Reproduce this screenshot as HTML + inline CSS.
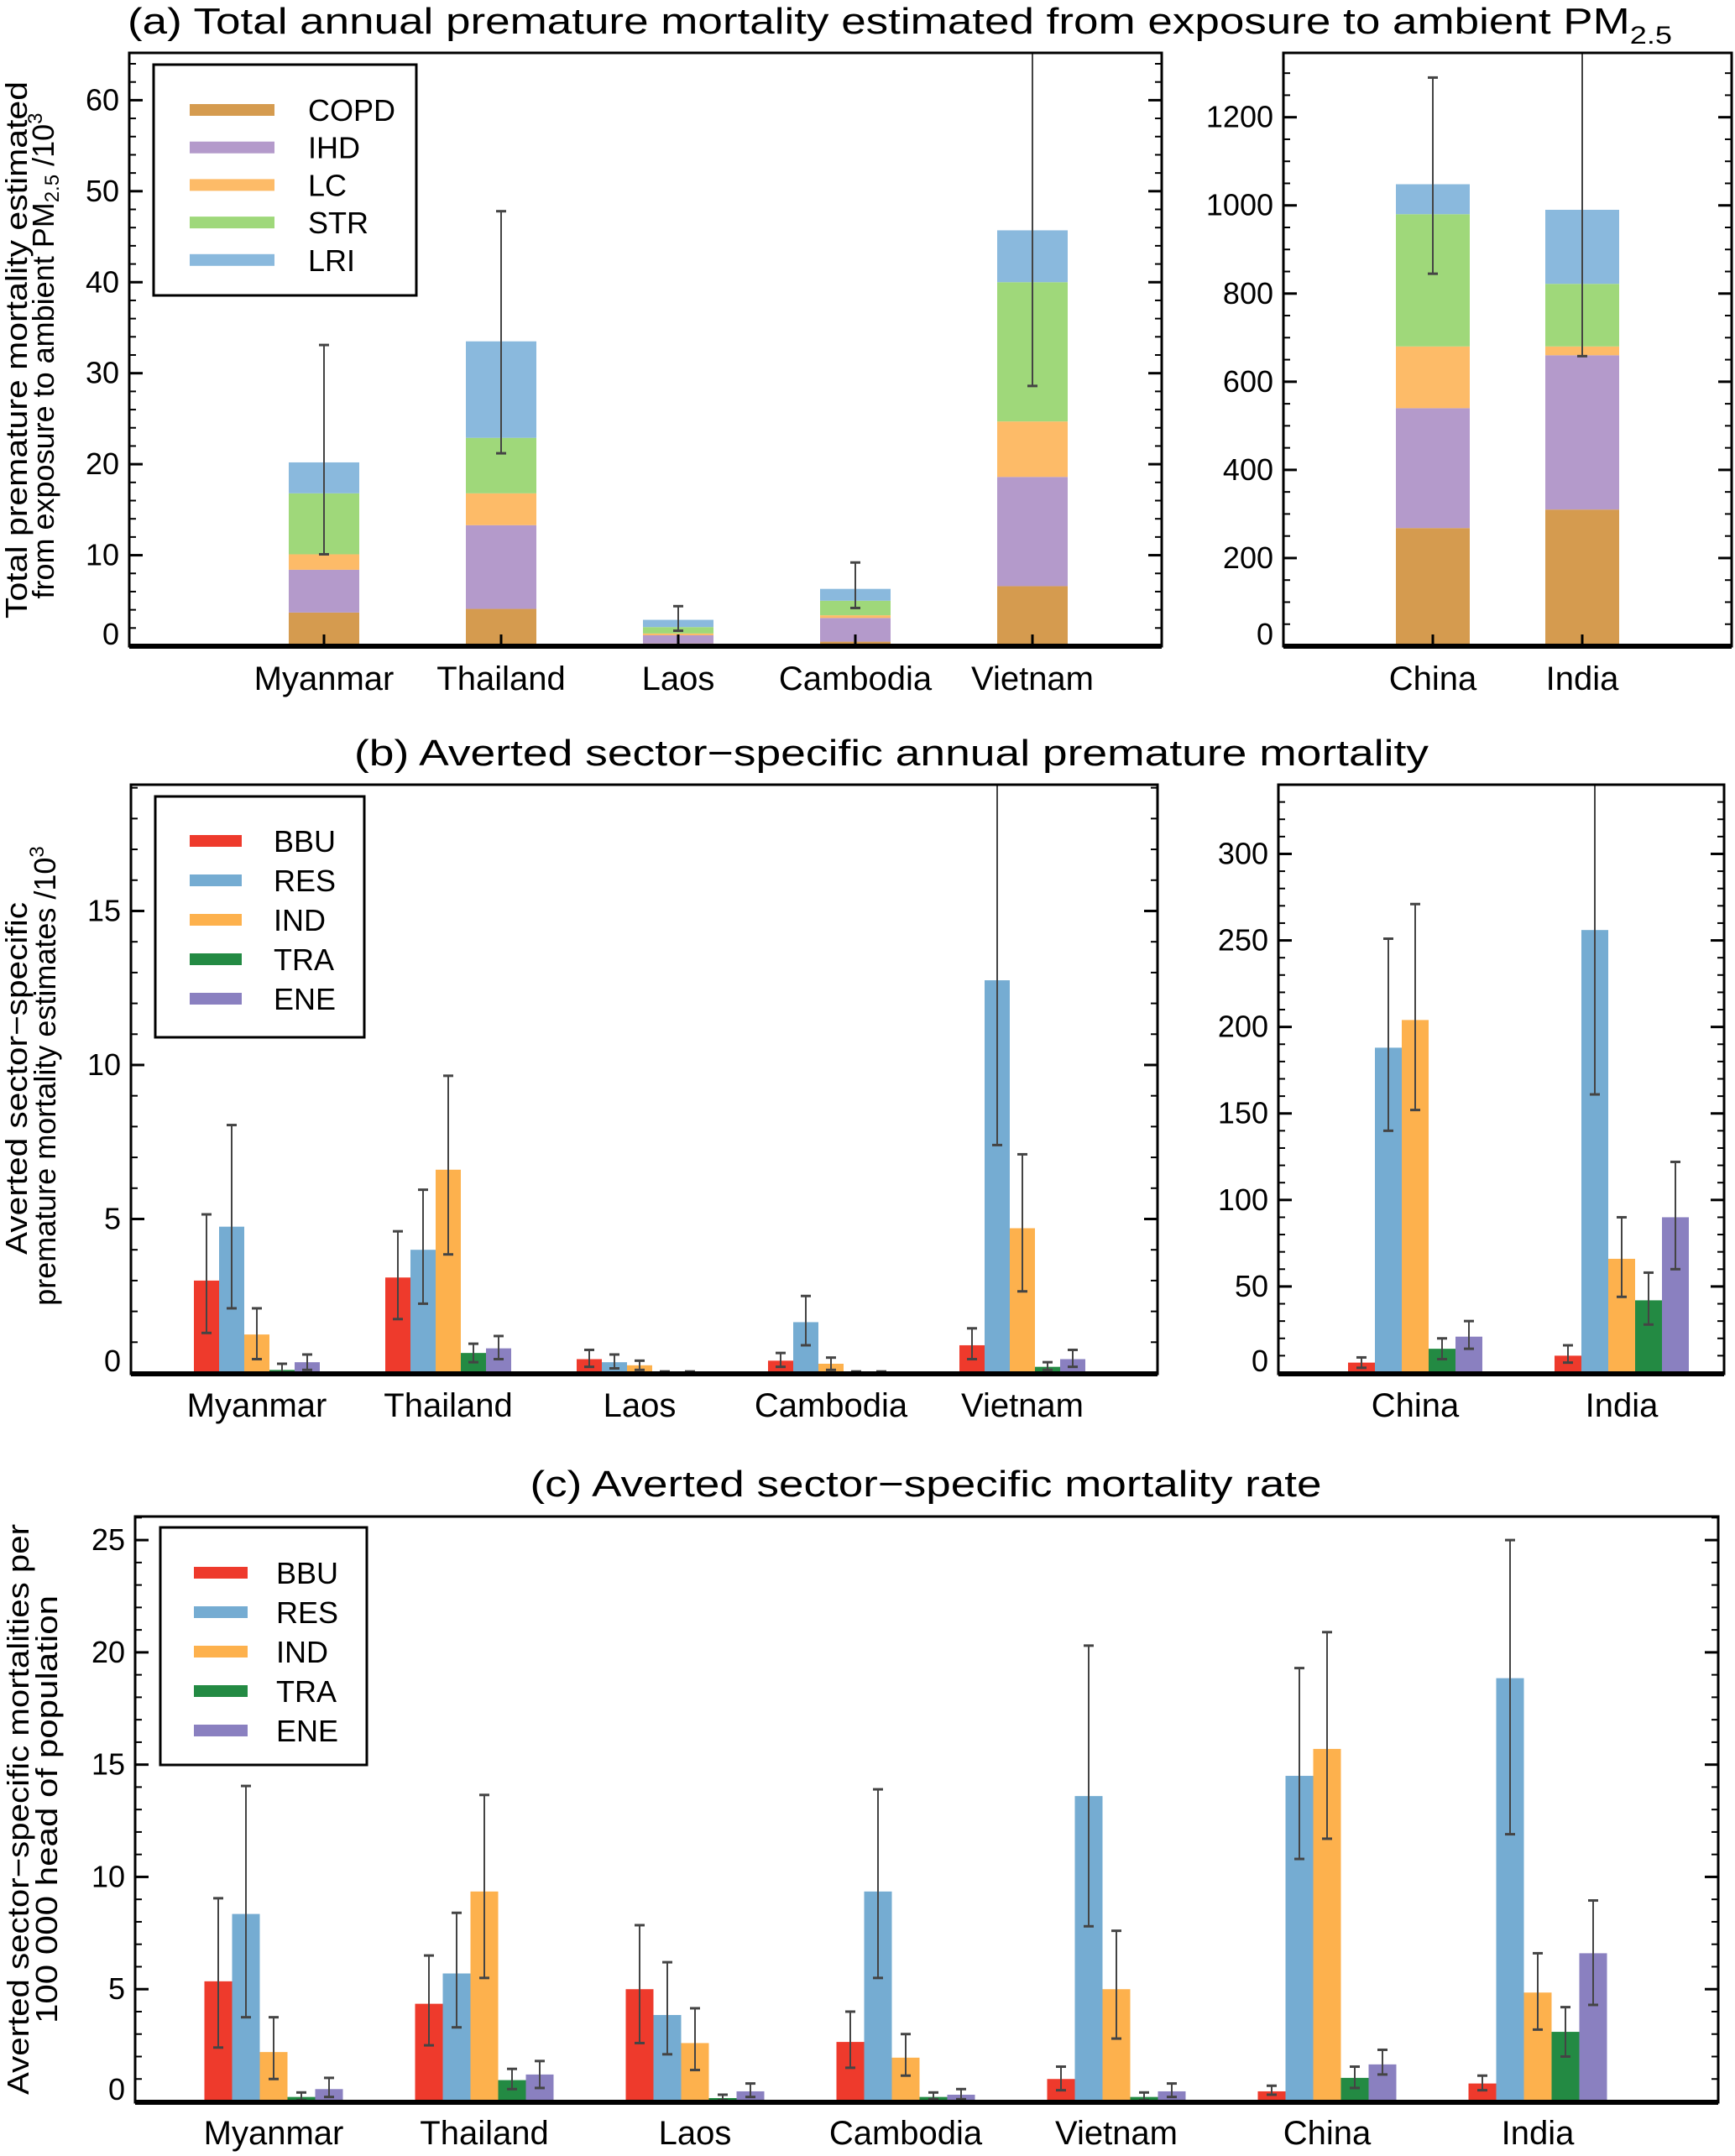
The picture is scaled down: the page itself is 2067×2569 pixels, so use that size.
<!DOCTYPE html>
<html><head><meta charset="utf-8"><style>
html,body{margin:0;padding:0;background:#fff;}
svg{display:block;font-family:"Liberation Sans",sans-serif;}
</style></head><body>
<svg id="fig" width="2067" height="2569" viewBox="0 0 2067 2569" xmlns="http://www.w3.org/2000/svg">
<text x="152" y="40" font-size="44" textLength="1840" lengthAdjust="spacingAndGlyphs">(a) Total annual premature mortality estimated from exposure to ambient PM<tspan font-size="30" dy="12">2.5</tspan></text>
<text x="1062" y="912" font-size="44" text-anchor="middle" textLength="1280" lengthAdjust="spacingAndGlyphs">(b) Averted sector−specific annual premature mortality</text>
<text x="1103" y="1783" font-size="44" text-anchor="middle" textLength="943" lengthAdjust="spacingAndGlyphs">(c) Averted sector−specific mortality rate</text>
<g font-size="36">
<text transform="translate(32,417) rotate(-90)" text-anchor="middle" textLength="640" lengthAdjust="spacingAndGlyphs">Total premature mortality estimated</text>
<text transform="translate(64,424) rotate(-90)" text-anchor="middle">from exposure to ambient PM<tspan font-size="24" dy="6">2.5</tspan><tspan dy="-6"> /10</tspan><tspan font-size="24" dy="-14">3</tspan></text>
</g>
<g font-size="36">
<text transform="translate(32,1285) rotate(-90)" text-anchor="middle" textLength="420" lengthAdjust="spacingAndGlyphs">Averted sector−specific</text>
<text transform="translate(66,1282) rotate(-90)" text-anchor="middle">premature mortality estimates /10<tspan font-size="24" dy="-14">3</tspan></text>
</g>
<g font-size="36">
<text transform="translate(34,2156) rotate(-90)" text-anchor="middle" textLength="680" lengthAdjust="spacingAndGlyphs">Averted sector−specific mortalities per</text>
<text transform="translate(68,2156) rotate(-90)" text-anchor="middle" textLength="510" lengthAdjust="spacingAndGlyphs">100 000 head of population</text>
</g>
</svg>
<script>
// ---------- data ----------
const stackCats = ["COPD","IHD","LC","STR","LRI"];
const stackColors = ["#d59b4f","#b49acb","#fdbb68","#9fd87a","#8ab9dd"];
const countriesA = ["Myanmar","Thailand","Laos","Cambodia","Vietnam"];
const countriesA2 = ["China","India"];
const copdA = [3.7,4.1,0.3,0.5,6.6];
const ihdA = [4.7,9.2,0.9,2.6,12.0];
const lcA = [1.7,3.5,0.2,0.3,6.1];
const strA = [6.7,6.1,0.7,1.6,15.3];
const lriA = [3.4,10.6,0.8,1.3,5.7];
const errLoA = [10.1,21.2,1.7,4.2,28.6];
const errHiA = [33.1,47.8,4.4,9.2,80];
const copdA2 = [268,310];
const ihdA2 = [272,350];
const lcA2 = [140,20];
const strA2 = [300,142];
const lriA2 = [68,168];
const errLoA2 = [845,658];
const errHiA2 = [1290,1500];

const sectors = ["BBU","RES","IND","TRA","ENE"];
const sectorColors = ["#ee3a2c","#75acd2","#fdb14d","#238a43","#8a80c0"];
const bBBU = [3.0,3.1,0.45,0.4,0.9];
const bRES = [4.75,4.0,0.35,1.65,12.75];
const bIND = [1.25,6.6,0.25,0.3,4.7];
const bTRA = [0.1,0.65,0.02,0.02,0.2];
const bENE = [0.35,0.8,0.01,0.02,0.45];
const bLo = [[1.3,2.1,0.45,0,0.1],[1.75,2.25,3.85,0.35,0.45],[0.2,0.15,0.1,0,0],[0.2,0.9,0.1,0,0],[0.45,7.4,2.65,0.1,0.2]];
const bHi = [[5.15,8.05,2.1,0.3,0.6],[4.6,5.95,9.65,0.95,1.2],[0.75,0.6,0.4,0.05,0.05],[0.65,2.5,0.5,0.05,0.05],[1.45,25,7.1,0.35,0.75]];
const b2BBU = [6,10];
const b2RES = [188,256];
const b2IND = [204,66];
const b2TRA = [14,42];
const b2ENE = [21,90];
const b2Lo = [[3,140,152,8,14],[6,161,44,28,60]];
const b2Hi = [[9,251,271,20,30],[16,400,90,58,122]];

const countriesC = ["Myanmar","Thailand","Laos","Cambodia","Vietnam","China","India"];
const cBBU = [5.35,4.35,5.0,2.65,1.0,0.45,0.8];
const cRES = [8.35,5.7,3.85,9.35,13.6,14.5,18.85];
const cIND = [2.2,9.35,2.6,1.95,5.0,15.7,4.85];
const cTRA = [0.2,0.95,0.15,0.2,0.2,1.05,3.1];
const cENE = [0.55,1.2,0.45,0.3,0.45,1.65,6.6];
const cLo = [[2.4,3.75,1.0,0.05,0.2],[2.5,3.3,5.5,0.55,0.6],[2.6,2.1,1.4,0.05,0.2],[1.5,5.5,1.15,0.1,0.1],[0.5,7.8,2.8,0.05,0.2],[0.3,10.8,11.7,0.6,1.2],[0.5,11.9,3.2,2.0,4.3]];
const cHi = [[9.05,14.05,3.75,0.4,1.05],[6.5,8.4,13.65,1.45,1.8],[7.85,6.2,4.15,0.3,0.8],[4.0,13.9,3.0,0.4,0.55],[1.55,20.3,7.6,0.4,0.8],[0.7,19.3,20.9,1.55,2.3],[1.15,25.0,6.6,4.2,8.95]];

const yTicksA = [0,10,20,30,40,50,60];
const yTicksA2 = [0,200,400,600,800,1000,1200];
const yTicksB = [0,5,10,15];
const yTicksB2 = [0,50,100,150,200,250,300];
const yTicksC = [0,5,10,15,20,25];

// ---------- helpers ----------
const NS = "http://www.w3.org/2000/svg";
const svg = document.getElementById("fig");
function mk(tag, attrs, parent){const e=document.createElementNS(NS,tag);for(const k in attrs)e.setAttribute(k,attrs[k]);(parent||svg).appendChild(e);return e;}
function scale(d0,d1,r0,r1){return v=>r0+(v-d0)*(r1-r0)/(d1-d0);}

function axesBox(name,x0,x1,yTop,yBot,ys,ticks,minorStep,vmax){
  const g=mk("g",{});
  
  
  for(let v=0; v<=vmax; v+=minorStep){
    const y=ys(v);
    mk("line",{x1:x0,x2:x0+8,y1:y,y2:y,stroke:"#000","stroke-width":2},g);
    mk("line",{x1:x1,x2:x1-8,y1:y,y2:y,stroke:"#000","stroke-width":2},g);
  }
  ticks.forEach(t=>{
    const y=ys(t);
    mk("line",{x1:x0,x2:x0+16,y1:y,y2:y,stroke:"#000","stroke-width":3},g);
    mk("line",{x1:x1,x2:x1-16,y1:y,y2:y,stroke:"#000","stroke-width":3},g);
    const tx=mk("text",{x:x0-12,y:y+(t===0?-2:12),"font-size":36,"text-anchor":"end"},g);
    tx.textContent=t;
    
    
  });
  mk("rect",{x:x0,y:yTop,width:x1-x0,height:yBot-yTop,fill:"none",stroke:"#000","stroke-width":3},g);
  mk("line",{x1:x0,x2:x1,y1:yBot,y2:yBot,stroke:"#000","stroke-width":6},g);
  return g;
}
function errBar(g,x,lo,hi,ys,yTop){
  const y1=Math.max(ys(hi),yTop), y0=ys(lo);
  mk("line",{x1:x,x2:x,y1:y0,y2:y1,stroke:"#444","stroke-width":2},g);
  mk("line",{x1:x-6,x2:x+6,y1:y0,y2:y0,stroke:"#444","stroke-width":3},g);
  if(ys(hi)>yTop) mk("line",{x1:x-6,x2:x+6,y1:y1,y2:y1,stroke:"#444","stroke-width":3},g);
}
function catLabel(x,y,txt){
  const t=mk("text",{x:x,y:y,"font-size":40,"text-anchor":"middle"});
  t.textContent=txt;
  
  
}
function legend(name,bx,by,bw,bh,sx,sw,y0,dy,tx,names,colors,sh){
  const g=mk("g",{});
  
  
  mk("rect",{x:bx,y:by,width:bw,height:bh,fill:"#fff",stroke:"#000","stroke-width":3},g);
  names.forEach((n,i)=>{
    const y=y0+i*dy;
    const r=mk("rect",{x:sx,y:y-sh/2,width:sw,height:sh,fill:colors[i]},g);
    
    
    const t=mk("text",{x:tx,y:y+13,"font-size":36},g);
    t.textContent=n;
    
    
  });
}

// ---------- panel a ----------
(function(){
  const yTop=63,yBot=770;
  const ysL=scale(0,65.2,yBot,yTop);
  const ysR=scale(0,1346,yBot,yTop);
  const series=[copdA,ihdA,lcA,strA,lriA];
  const series2=[copdA2,ihdA2,lcA2,strA2,lriA2];
  const g=mk("g",{});
  
  
  const xL=i=>386+i*211;
  countriesA.forEach((c,i)=>{
    let acc=0;
    series.forEach((s,k)=>{
      const r=mk("rect",{x:xL(i)-42,y:ysL(acc+s[i]),width:84,height:ysL(acc)-ysL(acc+s[i]),fill:stackColors[k]},g);
      
      
      acc+=s[i];
    });
    errBar(g,xL(i),errLoA[i],errHiA[i],ysL,yTop);
    catLabel(xL(i),822,c);
  });
  const xR=i=>1707+i*178;
  countriesA2.forEach((c,i)=>{
    let acc=0;
    series2.forEach((s,k)=>{
      const r=mk("rect",{x:xR(i)-44,y:ysR(acc+s[i]),width:88,height:ysR(acc)-ysR(acc+s[i]),fill:stackColors[k]},g);
      
      
      acc+=s[i];
    });
    errBar(g,xR(i),errLoA2[i],errHiA2[i],ysR,yTop);
    catLabel(xR(i),822,c);
  });
  axesBox("panel-a-left-axes",154,1384,yTop,yBot,ysL,yTicksA,2,65);
  axesBox("panel-a-right-axes",1529,2063,yTop,yBot,ysR,yTicksA2,50,1346);
  countriesA.forEach((c,i)=>mk("line",{x1:xL(i),x2:xL(i),y1:yBot,y2:yBot-14,stroke:"#000","stroke-width":3}));
  countriesA2.forEach((c,i)=>mk("line",{x1:xR(i),x2:xR(i),y1:yBot,y2:yBot-14,stroke:"#000","stroke-width":3}));
  legend("legend-a",183,77,313,275,226,101,131,44.7,367,stackCats,stackColors,14);
})();

// ---------- grouped helper ----------
function grouped(prefix,g,cats,seriesArr,lo,hi,centerFn,bw,ys,yTop){
  cats.forEach((c,i)=>{
    seriesArr.forEach((s,k)=>{
      const x=centerFn(i)+(k-2)*bw;
      const v=s[i];
      const r=mk("rect",{x:x-bw/2,y:ys(v),width:bw,height:ys(0)-ys(v),fill:sectorColors[k]},g);
      
      
      errBar(g,x,lo[i][k],hi[i][k],ys,yTop);
    });
  });
}

// ---------- panel b ----------
(function(){
  const yTop=935,yBot=1637;
  const ysL=scale(0,19.1,1636,yTop);
  const ysR=scale(0,340,1636,yTop);
  const g=mk("g",{});
  
  
  const xL=i=>306+i*228;
  grouped("b",g,countriesA,[bBBU,bRES,bIND,bTRA,bENE],bLo,bHi,xL,30,ysL,yTop);
  countriesA.forEach((c,i)=>catLabel(xL(i),1688,c));
  const xR=i=>1686+i*246;
  grouped("b",g,countriesA2,[b2BBU,b2RES,b2IND,b2TRA,b2ENE],b2Lo,b2Hi,xR,32,ysR,yTop);
  countriesA2.forEach((c,i)=>catLabel(xR(i),1688,c));
  axesBox("panel-b-left-axes",156,1379,yTop,yBot,ysL,yTicksB,1,19);
  axesBox("panel-b-right-axes",1523,2054,yTop,yBot,ysR,yTicksB2,10,340);
  legend("legend-b",185,949,249,287,226,62,1002,47,326,sectors,sectorColors,14);
})();

// ---------- panel c ----------
(function(){
  const yTop=1807,yBot=2505;
  const ys=scale(0,26.05,2504,yTop);
  const g=mk("g",{});
  
  
  const xc=i=>326+i*251;
  grouped("c",g,countriesC,[cBBU,cRES,cIND,cTRA,cENE],cLo,cHi,xc,33,ys,yTop);
  countriesC.forEach((c,i)=>catLabel(xc(i),2555,c));
  axesBox("panel-c-axes",161,2047,yTop,yBot,ys,yTicksC,1,26);
  legend("legend-c",191,1820,246,283,231,64,1874,47,329,sectors,sectorColors,14);
})();
</script>
</body></html>
